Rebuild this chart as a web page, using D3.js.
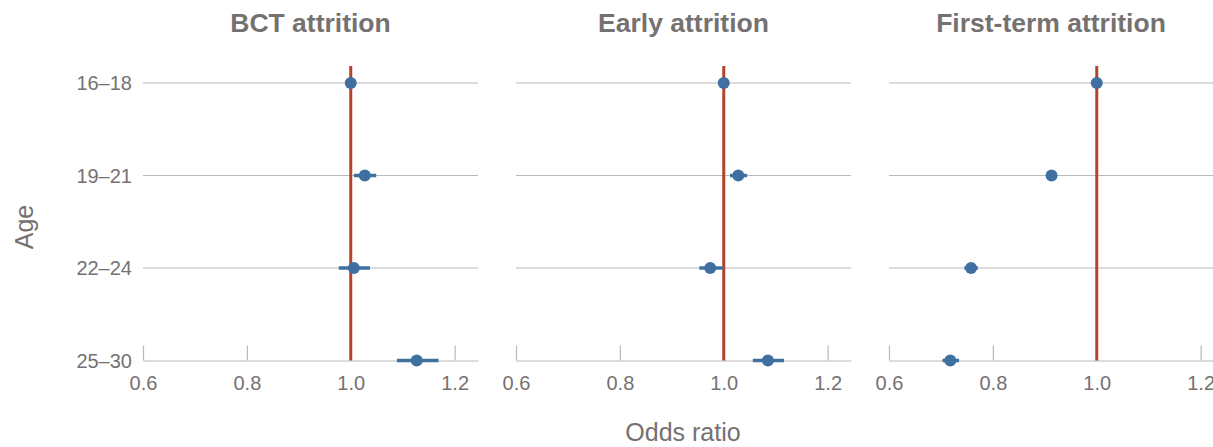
<!DOCTYPE html>
<html>
<head>
<meta charset="utf-8">
<script src="https://cdn.jsdelivr.net/npm/d3@7"></script>
<style>
  body { margin: 0; background: #fff; }
  text { font-family: "Liberation Sans", Arial, Helvetica, sans-serif; fill: #767171; }
</style>
</head>
<body>
<svg id="chart" width="1213" height="447"></svg>
<script>
// age groups, top to bottom
const ages = ["16–18", "19–21", "22–24", "25–30"];
const panels = ["BCT attrition", "Early attrition", "First-term attrition"];
const xTicks = [0.6, 0.8, 1.0, 1.2];

// odds ratios with 95% CI per panel (reference group has no interval)
const bctOdds  = [1.000, 1.027, 1.006, 1.127];
const bctLow   = [1.000, 1.006, 0.977, 1.089];
const bctHigh  = [1.000, 1.049, 1.037, 1.169];

const earlyOdds = [1.000, 1.028, 0.974, 1.085];
const earlyLow  = [1.000, 1.012, 0.953, 1.056];
const earlyHigh = [1.000, 1.045, 0.998, 1.116];

const termOdds = [1.000, 0.913, 0.758, 0.718];
const termLow  = [1.000, 0.906, 0.745, 0.703];
const termHigh = [1.000, 0.920, 0.771, 0.735];

const series = [
  {odds: bctOdds, low: bctLow, high: bctHigh},
  {odds: earlyOdds, low: earlyLow, high: earlyHigh},
  {odds: termOdds, low: termLow, high: termHigh}
];

const svg = d3.select("#chart");
const W = +svg.attr("width");

const left = 143, panelW = 335, step = 373;
const rowTop = 83, rowBottom = 360.5;

const x = d3.scaleLinear().domain([0.6, 1.245]).range([0, panelW]);
const y = d3.scalePoint().domain(ages).range([rowTop, rowBottom]);

const gridColor = "#b9b9b9";
const dotColor = "#3f70a1";
const refColor = "#b5432c";

panels.forEach((title, p) => {
  const x0 = left + p * step;
  const g = svg.append("g").attr("transform", `translate(${x0},0)`);
  const s = series[p];

  // title centred on the visible part of the panel
  const visRight = Math.min(x0 + panelW, W);
  svg.append("text")
    .attr("x", (x0 + visRight) / 2)
    .attr("y", 32)
    .attr("text-anchor", "middle")
    .style("font-size", "26.5px")
    .style("font-weight", "bold")
    .text(title);

  // horizontal gridlines
  g.selectAll("line.grid")
    .data(ages.slice(0, -1))
    .enter().append("line")
    .attr("class", "grid")
    .attr("x1", 0).attr("x2", panelW)
    .attr("y1", d => y(d)).attr("y2", d => y(d))
    .attr("stroke", gridColor).attr("stroke-width", 1.2);

  // x axis with upward ticks
  const axis = g.append("g")
    .attr("transform", `translate(0,${rowBottom})`)
    .call(d3.axisBottom(x).tickValues(xTicks).tickFormat(d3.format(".1f"))
      .tickSizeInner(-15).tickSizeOuter(0).tickPadding(15));
  axis.select(".domain").attr("stroke", gridColor).attr("stroke-width", 1.2);
  axis.selectAll(".tick line").attr("stroke", gridColor).attr("stroke-width", 1.2);
  axis.selectAll(".tick text")
    .style("font-size", "20px")
    .attr("fill", "#767171");

  // reference line at odds ratio 1
  g.append("line")
    .attr("x1", x(1)).attr("x2", x(1))
    .attr("y1", rowTop - 17).attr("y2", rowBottom)
    .attr("stroke", refColor).attr("stroke-width", 3);

  const rows = ages.map((a, i) => ({age: a, odds: s.odds[i], low: s.low[i], high: s.high[i]}));

  g.selectAll("line.ci")
    .data(rows)
    .enter().append("line")
    .attr("class", "ci")
    .attr("x1", d => x(d.low)).attr("x2", d => x(d.high))
    .attr("y1", d => y(d.age)).attr("y2", d => y(d.age))
    .attr("stroke", dotColor).attr("stroke-width", 3.5);

  g.selectAll("circle")
    .data(rows)
    .enter().append("circle")
    .attr("cx", d => x(d.odds))
    .attr("cy", d => y(d.age))
    .attr("r", 6)
    .attr("fill", dotColor);
});

// y labels
svg.selectAll("text.ylab")
  .data(ages)
  .enter().append("text")
  .attr("class", "ylab")
  .attr("x", 132)
  .attr("y", d => y(d))
  .attr("dy", "0.36em")
  .attr("text-anchor", "end")
  .style("font-size", "20px")
  .text(d => d);

svg.append("text")
  .attr("transform", "translate(33,227) rotate(-90)")
  .attr("text-anchor", "middle")
  .style("font-size", "25px")
  .text("Age");

svg.append("text")
  .attr("x", 683)
  .attr("y", 441)
  .attr("text-anchor", "middle")
  .style("font-size", "25px")
  .text("Odds ratio");
</script>
</body>
</html>
